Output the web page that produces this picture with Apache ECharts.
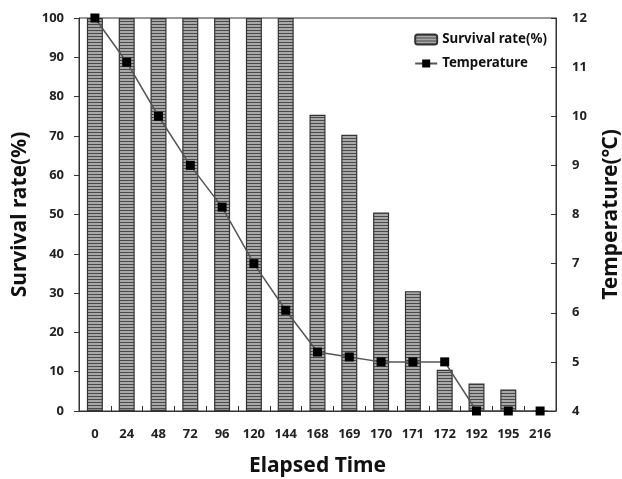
<!DOCTYPE html>
<html><head><meta charset="utf-8">
<script src="https://cdn.jsdelivr.net/npm/echarts@6/dist/echarts.min.js"></script>
<style>html,body{margin:0;padding:0;background:#fff}#c{width:622px;height:479px}</style>
</head><body><div id="c"></div>
<script>
const categories = ['0','24','48','72','96','120','144','168','169','170','171','172','192','195','216'];
const survivalRate = [100,100,100,100,100,100,100,75.4,70.3,50.5,30.5,10.5,7,5.5,0];
const temperature = [12,11.1,10,9,8.15,7,6.05,5.2,5.1,5,5,5,4,4,4];
const leftTicks = [0,100,10];
const rightTicks = [4,12,1];

const pc = document.createElement('canvas');
pc.width = 4; pc.height = 3;
const g = pc.getContext('2d');
g.fillStyle = '#a8a8a8'; g.fillRect(0,0,4,3);
g.fillStyle = '#4a4a4a'; g.fillRect(0,0,4,1);

const font = '"Noto Sans", "Open Sans", sans-serif';
const chart = echarts.init(document.getElementById('c'), null, {renderer:'canvas'});
chart.setOption({
  animation:false,
  backgroundColor:'#fff',
  textStyle:{fontFamily:font},
  grid:{left:79,right:66,top:18,bottom:68,containLabel:false,outerBoundsMode:'none',
        show:true,borderColor:'#333',borderWidth:1,backgroundColor:'transparent'},
  legend:{
    orient:'vertical', right:70, top:28, itemGap:11, itemWidth:22, itemHeight:10,
    textStyle:{fontFamily:font,fontWeight:'bold',fontSize:13.3,color:'#111'},
    data:[{name:'Survival rate(%)'},{name:'Temperature'}]
  },
  xAxis:{
    type:'category', data:categories, boundaryGap:true,
    name:'Elapsed Time', nameLocation:'middle', nameGap:45,
    nameTextStyle:{fontFamily:font,fontWeight:'bold',fontSize:21,color:'#111'},
    axisLine:{lineStyle:{color:'#333',width:1}},
    axisTick:{show:true,inside:true,length:5,interval:0,lineStyle:{color:'#333'}},
    axisLabel:{interval:0,fontFamily:font,fontWeight:'bold',fontSize:13,color:'#222',margin:17}
  },
  yAxis:[{
    type:'value', min:leftTicks[0], max:leftTicks[1], interval:leftTicks[2],
    name:'Survival rate(%)', nameLocation:'middle', nameGap:48, nameRotate:90,
    nameTextStyle:{fontFamily:font,fontWeight:'bold',fontSize:21,color:'#111'},
    axisLine:{show:true,lineStyle:{color:'#333',width:1}},
    axisTick:{show:true,inside:false,length:5,lineStyle:{color:'#333'}},
    splitLine:{show:false},
    axisLabel:{fontFamily:font,fontWeight:'bold',fontSize:13,color:'#222',margin:15}
  },{
    type:'value', min:rightTicks[0], max:rightTicks[1], interval:rightTicks[2],
    name:'Temperature(\u2103)', nameLocation:'middle', nameGap:45, nameRotate:90,
    nameTextStyle:{fontFamily:font,fontWeight:'bold',fontSize:21,color:'#111'},
    axisLine:{show:true,lineStyle:{color:'#333',width:1}},
    axisTick:{show:true,inside:true,length:5,lineStyle:{color:'#333'}},
    splitLine:{show:false},
    axisLabel:{fontFamily:font,fontWeight:'bold',fontSize:13,color:'#222',margin:16}
  }],
  series:[{
    name:'Survival rate(%)', type:'bar', data:survivalRate, barWidth:16, yAxisIndex:0,
    itemStyle:{color:{image:pc,repeat:'repeat'},borderColor:'#333',borderWidth:1.2}
  },{
    name:'Temperature', type:'line', data:temperature, yAxisIndex:1,
    symbol:'rect', symbolSize:9, showSymbol:true,
    itemStyle:{color:'#000',borderWidth:0},
    lineStyle:{color:'#555',width:1.5}
  }]
});
</script></body></html>
